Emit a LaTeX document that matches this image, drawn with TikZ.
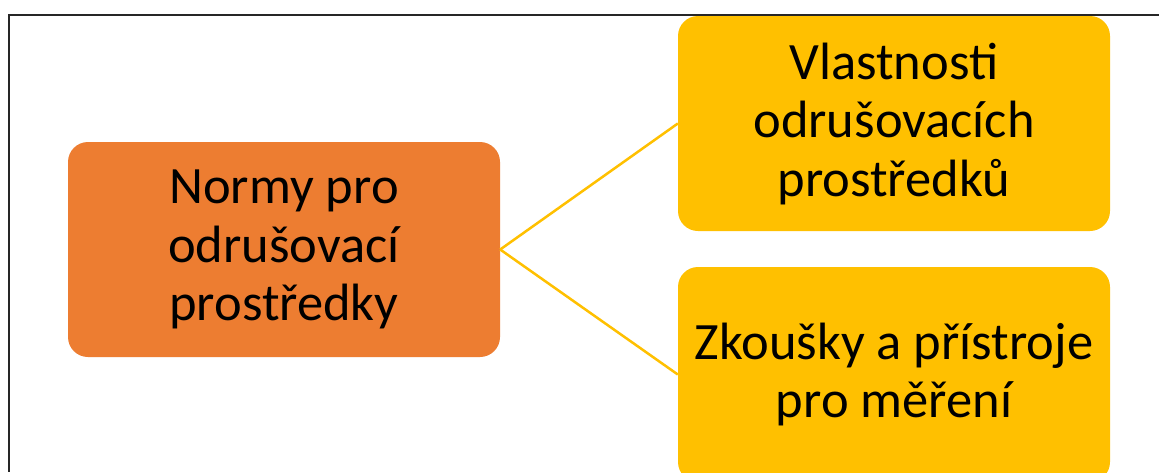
\documentclass[tikz,border=0pt]{standalone}
\usepackage{fontspec}
\setmainfont{Carlito}
\definecolor{orangebox}{HTML}{ED7D31}
\definecolor{yellowbox}{HTML}{FFC000}
\begin{document}
\begin{tikzpicture}[x=1pt,y=-1pt,
  box/.style={rectangle, rounded corners=20pt, minimum width=432pt, minimum height=215pt,
    inner sep=0pt, align=center, font=\fontsize{52.5}{58.5}\selectfont, text=black},
  link/.style={draw=yellowbox, line width=2.5pt}]
\useasboundingbox (0,0) rectangle (1159,472);
\clip (0,0) rectangle (1159,472);
\fill[white] (0,0) rectangle (1159,472);
\node[box, fill=orangebox] (norms) at (284,249.5) {Normy pro\\odrušovací\\prostředky};
\node[box, fill=yellowbox] (props) at (894,123.5) {Vlastnosti\\odrušovacích\\prostředků};
\node[box, fill=yellowbox] (tests) at (894,374.5) {Zkoušky a přístroje\\pro měření};
\draw[link] (norms.east) -- (props.west);
\draw[link] (norms.east) -- (tests.west);
\coordinate (tl) at (8.5,14.7);
\coordinate (tr) at (1159,14.7);
\coordinate (bl) at (8.5,472);
\draw[line width=2pt, black!85] (tr) -- (tl) -- (bl);
\end{tikzpicture}
\end{document}
